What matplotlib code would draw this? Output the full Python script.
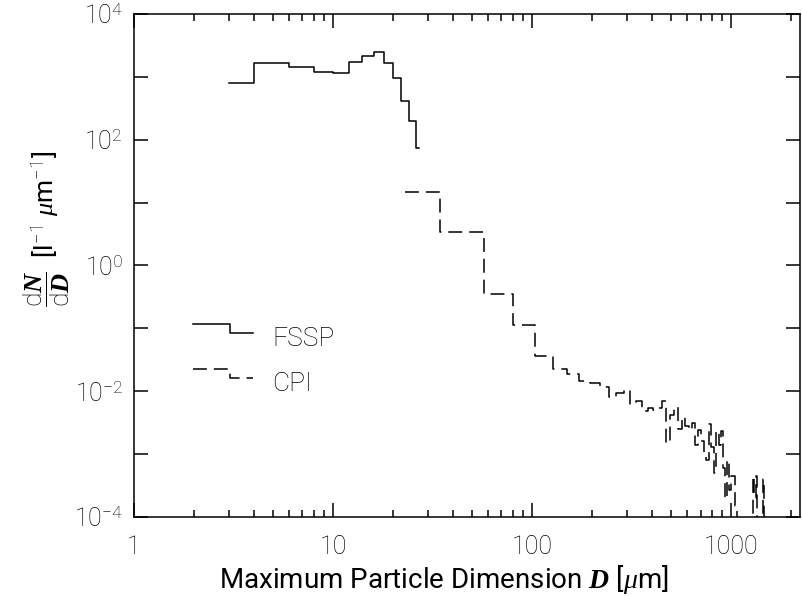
import numpy as np
import matplotlib.pyplot as plt
from matplotlib.legend_handler import HandlerLine2D
from matplotlib.lines import Line2D
from matplotlib.ticker import NullLocator, NullFormatter

plt.rcParams['font.family'] = ['Roboto', 'DejaVu Sans']
plt.rcParams['font.weight'] = 'light'
plt.rcParams['mathtext.fontset'] = 'custom'
plt.rcParams['mathtext.rm'] = 'Roboto:light'
plt.rcParams['mathtext.it'] = 'Liberation Serif:italic'
plt.rcParams['mathtext.bf'] = 'Liberation Serif:italic:bold'
plt.rcParams['lines.scale_dashes'] = False

# FSSP bin centres (um) and concentrations
fssp_d = [3, 5, 7, 9, 11, 13, 15, 17, 19, 21, 23, 25, 27]
fssp_n = [800, 1650, 1450, 1180, 1160, 1750, 2150, 2460, 1650, 970, 414, 199, 75]

# CPI bin centres (um) and concentrations
cpi_d = [23, 46, 69, 92, 115, 138, 161, 184, 207, 230, 253, 276, 299, 322,
         345, 368, 391, 414, 437, 460, 483, 506, 529, 552, 575, 598, 621,
         644, 667, 690, 713, 736, 759, 782, 805, 828, 851, 874, 897, 920,
         943, 966, 989, 1012, 1035, 1058, 1081, 1104, 1127, 1150, 1173,
         1196, 1219, 1242, 1265, 1288, 1311, 1334, 1357, 1380, 1403, 1426,
         1449, 1472]
cpi_n = [15, 3.38, 0.353, 0.114, 0.036, 0.0227, 0.0189, 0.0146, 0.0135,
         0.0117, 0.0082, 0.0095, 0.0105, 0.0063, 0.0071, 0.0048, 0.0055,
         0.0050, 0.0055, 0.0070, 0.0015, 0.0042, 0.0057, 0.0025, 0.0039,
         0.0028, 0.0024, 0.0031, 0.0014, 0.0024, 0.0016, 0.00097, 0.0008,
         0.0030, 0.0013, 0.0005, 0.0023, 0.0014, 0.0023, 0.0006, 0.00019,
         0.0008, 0.00027, 0.00045, 0.00045, 0.00015, 0, 0, 0, 0, 0, 0, 0,
         0, 0, 0.00045, 0.0002, 0.00045, 0, 0, 0, 0, 0.0004, 0]

x_ticks = [1, 10, 100, 1000]
x_labels = ['1', '10', '100', '1000']
y_ticks = [1e-4, 1e-3, 1e-2, 1e-1, 1e0, 1e1, 1e2, 1e3, 1e4]
y_labels = ['10$^{-4}$', '', '10$^{-2}$', '', '10$^{0}$', '',
            '10$^{2}$', '', '10$^{4}$']


class StepHandler(HandlerLine2D):
    # legend sample drawn as a little step, like the histogram lines
    def create_artists(self, legend, orig_handle, xdescent, ydescent,
                       width, height, fontsize, trans):
        xs = np.array([0, 0.62, 0.62, 1.0]) * width - xdescent
        ys = np.array([1.2, 1.2, 0.68, 0.68]) * height - ydescent
        line = Line2D(xs, ys)
        self.update_prop(line, orig_handle, legend)
        line.set_drawstyle('default')
        line.set_transform(trans)
        return [line]


fig = plt.figure(figsize=(8.02, 5.96), dpi=100)
ax = fig.add_axes([0.167, 0.1326, 0.830, 0.844])

ax.plot(fssp_d, fssp_n, drawstyle='steps-mid', color='black', lw=1.1,
        label='FSSP')
ax.plot(cpi_d, cpi_n, drawstyle='steps-mid', color='black', lw=1.1,
        dashes=(10, 5), label='CPI')

ax.set_xscale('log')
ax.set_yscale('log')
ax.set_xlim(1, 2200)
ax.set_ylim(1e-4, 1e4)

ax.set_xticks(x_ticks)
ax.set_xticklabels(x_labels)
ax.xaxis.set_minor_formatter(NullFormatter())
ax.set_yticks(y_ticks)
ax.set_yticklabels(y_labels)
ax.yaxis.set_minor_locator(NullLocator())

ax.tick_params(which='both', direction='in', top=True, right=True,
               width=1.1, labelsize=18, labelcolor='black')
ax.tick_params(which='major', length=10)
ax.tick_params(which='minor', length=5)
ax.tick_params(axis='x', pad=13)
ax.tick_params(axis='y', pad=8)
for s in ax.spines.values():
    s.set_linewidth(1.1)

ax.set_xlabel(r'Maximum Particle Dimension $\mathbf{D}$ [$\mu$m]', fontsize=20)
ax.xaxis.set_label_coords(0.465, -0.091)
ax.set_ylabel(r'$\dfrac{\mathrm{d}\mathbf{N}}{\mathrm{d}\mathbf{D}}$  '
              r'[l$^{-1}$ $\mu$m$^{-1}$]', fontsize=19)
ax.yaxis.set_label_coords(-0.093, 0.573)

ax.legend(handler_map={Line2D: StepHandler()}, loc='upper left',
          bbox_to_anchor=(0.0887, 0.378), frameon=False, handlelength=2.27,
          handletextpad=0.72, labelspacing=0.8, borderpad=0,
          borderaxespad=0, fontsize=19)

fig.savefig('out.png', dpi=100)
